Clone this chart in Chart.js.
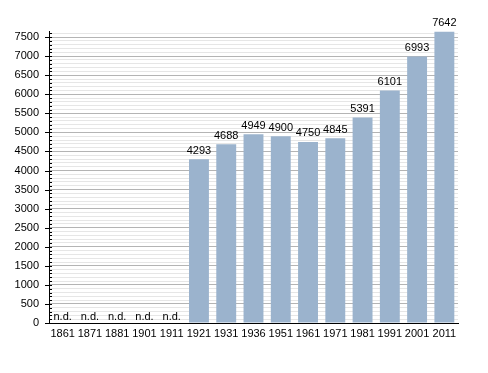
<!DOCTYPE html>
<html>
<head>
<meta charset="utf-8">
<script src="https://cdn.jsdelivr.net/npm/chart.js@4/dist/chart.umd.min.js"></script>
<style>
  html, body { margin: 0; padding: 0; background: #fff; }
  #wrap { width: 488px; height: 373px; }
</style>
</head>
<body>
<div id="wrap"><canvas id="chart"></canvas></div>
<script>
// census years and population (null = no data, shown as "n.d.")
const years = ['1861', '1871', '1881', '1901', '1911', '1921', '1931', '1936', '1951', '1961', '1971', '1981', '1991', '2001', '2011'];
const population = [null, null, null, null, null, 4293, 4688, 4949, 4900, 4750, 4845, 5391, 6101, 6993, 7642];
const yMax = 7660;
const majorStep = 500;
const minorStep = 100;

const labelFont = '11px "Liberation Sans", Arial, sans-serif';

// value labels above bars, "n.d." where missing
const valueLabels = {
    id: 'valueLabels',
    afterDatasetsDraw(chart) {
        const ctx = chart.ctx;
        const meta = chart.getDatasetMeta(0);
        const yScale = chart.scales.y;
        ctx.save();
        ctx.font = labelFont;
        ctx.fillStyle = '#000';
        ctx.textAlign = 'center';
        ctx.textBaseline = 'bottom';
        meta.data.forEach((bar, i) => {
            const v = population[i];
            if (v === null) {
                ctx.fillText('n.d.', bar.x, yScale.getPixelForValue(0) - 1);
            } else {
                ctx.fillText(String(v), bar.x, bar.y - 3);
            }
        });
        ctx.restore();
    }
};

// small tick marks on the y axis (major every 500, minor every 100)
const axisTicks = {
    id: 'axisTicks',
    afterDraw(chart) {
        const ctx = chart.ctx;
        const yScale = chart.scales.y;
        const left = chart.chartArea.left;
        ctx.save();
        ctx.strokeStyle = '#000';
        ctx.lineWidth = 1;
        for (let v = 0; v <= yMax; v += minorStep) {
            const y = Math.round(yScale.getPixelForValue(v)) + 0.5;
            ctx.beginPath();
            if (v % majorStep === 0) {
                ctx.moveTo(left - 4, y);
                ctx.lineTo(left + 3, y);
            } else {
                ctx.moveTo(left, y);
                ctx.lineTo(left + 3, y);
            }
            ctx.stroke();
        }
        ctx.restore();
    }
};

new Chart(document.getElementById('chart'), {
    type: 'bar',
    data: {
        labels: years,
        datasets: [{
            data: population,
            backgroundColor: '#9bb3cd',
            borderWidth: 0,
            barPercentage: 0.73,
            categoryPercentage: 1.0
        }]
    },
    options: {
        responsive: true,
        maintainAspectRatio: false,
        animation: false,
        layout: { padding: { left: 0, right: 30, top: 31, bottom: 0 } },
        plugins: {
            legend: { display: false },
            tooltip: { enabled: false }
        },
        scales: {
            x: {
                grid: { display: false, drawTicks: false },
                border: { display: true, color: '#000', width: 1 },
                ticks: {
                    color: '#000',
                    font: { family: '"Liberation Sans", Arial, sans-serif', size: 11 },
                    maxRotation: 0,
                    autoSkip: false,
                    padding: 4
                },
                afterFit(scale) { scale.height = 50; }
            },
            y: {
                min: 0,
                max: yMax,
                grid: {
                    drawTicks: false,
                    color: ctx => (ctx.tick && ctx.tick.value % majorStep === 0) ? '#b4b4b4' : '#e6e6e6',
                    lineWidth: 1
                },
                border: { display: true, color: '#000', width: 1 },
                afterBuildTicks(scale) {
                    const t = [];
                    for (let v = 0; v <= yMax; v += minorStep) t.push({ value: v });
                    scale.ticks = t;
                },
                ticks: {
                    color: '#000',
                    font: { family: '"Liberation Sans", Arial, sans-serif', size: 11 },
                    autoSkip: false,
                    padding: 10,
                    callback: v => (v % majorStep === 0 ? String(v) : '')
                },
                afterFit(scale) { scale.width = 49; }
            }
        }
    },
    plugins: [valueLabels, axisTicks]
});
</script>
</body>
</html>
